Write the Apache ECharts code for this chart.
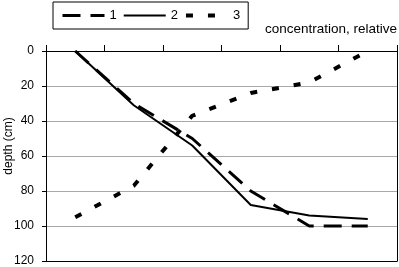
<!DOCTYPE html>
<html>
<head>
<meta charset="utf-8">
<script src="https://cdn.jsdelivr.net/npm/echarts@6/dist/echarts.min.js"></script>
<style>
html,body{margin:0;padding:0;background:#fff;}
#c{width:399px;height:267px;}
</style>
</head>
<body>
<div id="c"></div>
<script>
var categories = ['1', '2', '3', '4', '5', '6'];
var seriesNames = ['1', '2', '3'];
var depth1 = [0, 30, 50, 80, 100, 100];
var depth2 = [0, 31, 54, 88, 94, 96];
var depth3 = [95, 77, 37, 24, 18, 0];
var yTicks = [0, 20, 40, 60, 80, 100, 120];

var styles = [
  {color: '#000', width: 3, type: [18, 10]},
  {color: '#000', width: 2, type: 'solid'},
  {color: '#000', width: 4, type: [7, 15]}
];

var chart = echarts.init(document.getElementById('c'), null, {renderer: 'canvas'});
var font = 'Liberation Sans, Arial, Helvetica, sans-serif';
chart.setOption({
  animation: false,
  backgroundColor: '#fff',
  textStyle: {fontFamily: font},
  legend: {
    left: 53, top: 2,
    padding: [7, 8, 7, 8],
    borderColor: '#000', borderWidth: 1,
    itemWidth: 42, itemHeight: 14, itemGap: 6,
    textStyle: {fontSize: 13, color: '#000', fontFamily: font},
    data: seriesNames.map(function (n, i) {
      return {name: n, itemStyle: {opacity: 0}, lineStyle: {color: '#000', width: styles[i].width, type: styles[i].type}};
    })
  },
  graphic: [
    {type: 'text', right: 2, top: 22, style: {text: 'concentration, relative', font: '13.5px ' + font, fill: '#000'}},
    {type: 'text', x: 3, y: 146, rotation: Math.PI / 2, style: {text: 'depth (cm)', font: '12px ' + font, fill: '#000', align: 'center', verticalAlign: 'top'}}
  ],
  grid: {left: 46, right: 2, top: 51, bottom: 5},
  xAxis: [
    {
      type: 'category', position: 'top', data: categories, boundaryGap: true,
      axisLine: {show: true, lineStyle: {color: '#000', width: 1}},
      axisTick: {show: true, length: 6, lineStyle: {color: '#000'}},
      axisLabel: {show: false}, splitLine: {show: false}
    },
    {
      type: 'value', position: 'bottom', gridIndex: 0, min: 0, max: 1,
      axisLine: {show: true, onZero: false, lineStyle: {color: '#000', width: 1}},
      axisTick: {show: false}, axisLabel: {show: false}, splitLine: {show: false}
    }
  ],
  yAxis: [
    {
      type: 'value', inverse: true, min: yTicks[0], max: yTicks[yTicks.length - 1], interval: 20,
      axisLine: {show: true, onZero: false, lineStyle: {color: '#000', width: 1}},
      axisTick: {show: true, length: 4, lineStyle: {color: '#000'}},
      axisLabel: {color: '#000', fontSize: 12, margin: 12, fontFamily: font},
      splitLine: {show: true, lineStyle: {color: '#a8a8a8', width: 1}}
    },
    {
      type: 'value', position: 'right', min: 0, max: 1,
      axisLine: {show: true, onZero: false, lineStyle: {color: '#000', width: 1}},
      axisTick: {show: false}, axisLabel: {show: false}, splitLine: {show: false}
    }
  ],
  series: [
    {name: seriesNames[0], type: 'line', data: depth1, symbol: 'none', xAxisIndex: 0, yAxisIndex: 0,
      lineStyle: styles[0], itemStyle: {color: '#000'}},
    {name: seriesNames[1], type: 'line', data: depth2, symbol: 'none', xAxisIndex: 0, yAxisIndex: 0,
      lineStyle: styles[1], itemStyle: {color: '#000'}},
    {name: seriesNames[2], type: 'line', data: depth3, symbol: 'none', xAxisIndex: 0, yAxisIndex: 0,
      lineStyle: styles[2], itemStyle: {color: '#000'}}
  ]
});
</script>
</body>
</html>
